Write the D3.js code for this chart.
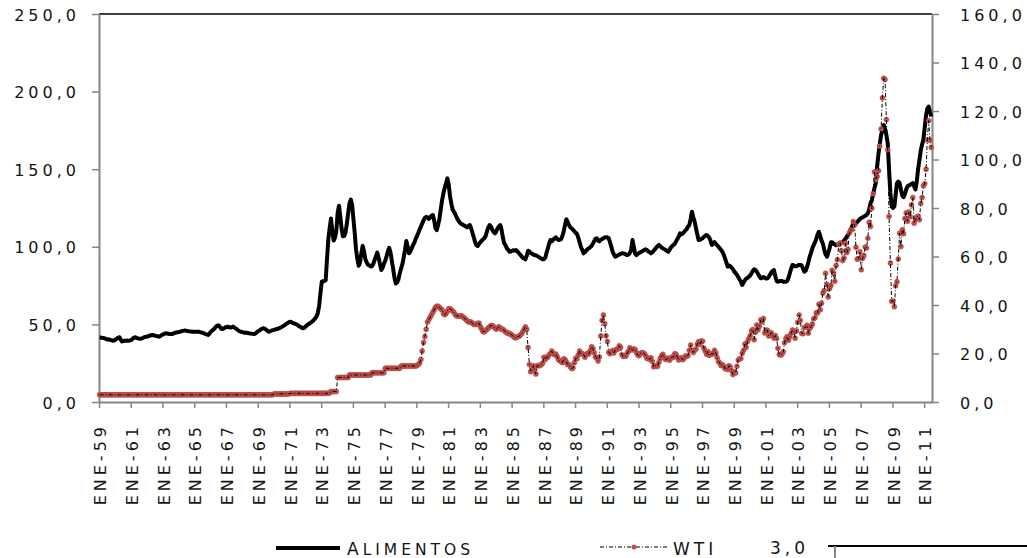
<!DOCTYPE html>
<html>
<head>
<meta charset="utf-8">
<script src="https://cdn.jsdelivr.net/npm/d3@7"></script>
<style>
  body { margin: 0; background: #fff; }
  svg text { font-family: "DejaVu Sans", sans-serif; fill: #141414; letter-spacing: 4px; }
</style>
</head>
<body>
<svg id="chart" width="1027" height="558"></svg>
<script>
// monthly series, Jan 1959 .. Jun 2011 (one row per year)
const startYear = 1959;

const alimentos = [
  41.7, 41.5, 41.3, 41.2, 41.0, 40.6, 40.2, 40.5, 40.0, 39.8, 39.5, 39.6,
  40.2, 40.8, 41.5, 41.7, 40.2, 39.0, 39.3, 39.5, 39.4, 39.6, 39.5, 39.6,
  40.0, 40.8, 41.5, 41.7, 41.2, 41.0, 40.8, 40.8, 41.0, 41.4, 41.8, 42.0,
  42.1, 42.4, 42.8, 43.0, 43.2, 43.0, 42.8, 42.5, 42.3, 42.1, 42.5, 43.2,
  43.6, 44.0, 44.3, 44.2, 44.0, 43.8, 43.8, 43.8, 44.2, 44.6, 44.8, 45.0,
  45.1, 45.3, 45.6, 45.8, 46.0, 46.0, 45.8, 45.6, 45.5, 45.4, 45.3, 45.3,
  45.3, 45.3, 45.2, 45.3, 45.0, 44.8, 44.5, 44.2, 43.8, 43.5, 43.2, 44.0,
  45.2, 46.0, 46.6, 47.5, 48.5, 49.2, 49.4, 48.4, 47.2, 47.0, 47.5, 48.0,
  48.3, 48.5, 48.2, 48.0, 48.3, 48.6, 48.0, 47.4, 46.8, 46.0, 45.5, 45.3,
  45.0, 44.8, 44.6, 44.7, 44.5, 44.3, 44.2, 44.0, 43.9, 43.8, 44.2, 45.0,
  45.6, 46.2, 46.8, 47.3, 47.5, 47.2, 46.5, 45.8, 45.3, 45.5, 46.0, 46.3,
  46.5, 46.8, 47.0, 47.2, 47.6, 48.0, 48.6, 49.0, 49.6, 50.2, 50.8, 51.3,
  51.7, 51.5, 51.0, 50.6, 50.3, 50.0, 49.4, 48.8, 48.3, 47.8, 47.5, 48.0,
  48.8, 49.6, 50.2, 50.7, 51.3, 52.0, 52.8, 53.8, 55.2, 57.1, 62.0, 70.0,
  77.5, 77.8, 78.0, 78.5, 92.0, 105.0, 112.0, 118.3, 110.0, 104.0, 106.0, 110.0,
  121.7, 126.5, 120.0, 112.0, 106.8, 107.0, 109.0, 115.0, 122.0, 128.0, 130.4, 127.0,
  117.5, 108.0, 98.1, 92.0, 87.8, 90.0, 96.0, 100.6, 97.0, 92.0, 89.9, 88.5,
  88.0, 87.3, 87.5, 89.0, 91.5, 94.0, 96.3, 93.0, 89.0, 85.1, 86.5, 89.0,
  91.0, 94.0, 97.0, 99.3, 96.5, 91.0, 86.0, 80.0, 76.4, 77.0, 79.0, 83.0,
  86.0, 89.0, 93.0, 98.0, 103.7, 100.0, 95.8, 97.0, 99.0, 101.0, 102.6, 105.0,
  107.0, 109.0, 111.0, 113.0, 115.0, 117.0, 118.5, 119.3, 119.0, 118.0, 119.0, 120.0,
  120.5, 117.0, 112.0, 110.8, 114.0, 118.0, 124.0, 130.0, 134.5, 138.0, 141.0, 144.1,
  140.0, 132.3, 128.0, 124.0, 122.6, 121.0, 119.0, 117.5, 116.0, 115.1, 114.5, 114.0,
  113.5, 113.0, 112.5, 113.5, 114.0, 112.0, 109.0, 106.0, 103.0, 101.0, 100.5, 102.0,
  103.0, 104.0, 104.8, 105.5, 107.0, 110.0, 112.5, 114.0, 113.0, 111.0, 109.5, 108.7,
  110.0, 112.0, 113.0, 114.0, 111.0, 106.0, 102.2, 101.0, 99.0, 98.0, 96.8, 97.0,
  97.5, 97.8, 97.5, 97.9, 97.0, 96.0, 95.0, 94.0, 93.0, 92.5, 91.9, 94.0,
  97.5, 97.0, 96.0, 95.5, 95.0, 94.7, 94.5, 94.0, 93.5, 93.0, 92.5, 92.0,
  91.9, 93.0, 96.0, 99.0, 102.0, 104.4, 103.5, 104.5, 105.5, 106.1, 105.0, 104.4,
  104.4, 105.0, 107.0, 110.0, 114.0, 117.7, 116.0, 114.0, 112.5, 111.9, 111.0, 110.0,
  109.0, 108.2, 106.0, 103.0, 100.0, 98.0, 95.8, 96.5, 97.5, 98.5, 99.0, 99.7,
  100.5, 102.0, 103.5, 105.0, 105.5, 104.0, 103.5, 104.4, 105.0, 105.5, 106.0, 106.1,
  106.1, 105.5, 103.0, 100.1, 97.0, 95.0, 93.6, 94.0, 94.5, 95.0, 95.5, 95.8,
  95.8, 95.5, 95.0, 94.7, 95.0, 96.0, 98.0, 104.4, 100.0, 95.5, 94.7, 95.5,
  96.0, 96.5, 97.0, 97.5, 98.0, 98.4, 97.8, 97.0, 96.5, 95.8, 96.5, 97.5,
  98.5, 99.5, 100.5, 101.2, 100.5, 99.5, 99.0, 98.5, 98.0, 97.5, 96.8, 98.0,
  99.5, 100.5, 101.2, 102.0, 103.5, 105.0, 106.5, 108.7, 108.0, 108.5, 109.5, 110.5,
  111.5, 113.0, 114.0, 118.0, 122.6, 119.0, 116.2, 112.0, 108.0, 104.4, 104.5, 105.0,
  105.5, 106.5, 107.0, 107.6, 107.0, 106.0, 104.0, 101.2, 102.0, 103.0, 102.0, 101.0,
  100.0, 99.0, 98.0, 96.8, 95.0, 92.5, 90.0, 87.2, 88.0, 87.5, 86.5, 85.5,
  84.0, 83.0, 82.0, 80.5, 79.0, 77.5, 75.4, 77.0, 78.5, 79.5, 80.0, 80.7,
  81.5, 83.0, 84.5, 85.5, 85.0, 84.0, 82.5, 81.0, 79.7, 80.0, 80.5, 80.0,
  79.5, 79.7, 80.5, 82.0, 83.5, 84.5, 85.0, 81.0, 78.0, 77.5, 77.8, 78.0,
  78.0, 77.5, 77.5, 77.5, 78.0, 80.0, 83.0, 86.0, 88.3, 88.0, 87.5, 87.5,
  88.0, 88.3, 88.3, 88.0, 86.0, 84.0, 84.5, 87.0, 90.0, 93.6, 96.0, 99.0,
  101.0, 103.0, 105.0, 108.0, 109.7, 107.0, 104.0, 102.0, 98.0, 95.0, 93.6, 96.0,
  99.0, 103.0, 103.0, 102.0, 101.5, 101.0, 101.5, 102.0, 102.5, 102.5, 103.0, 104.0,
  105.0, 106.5, 107.6, 109.0, 111.0, 113.0, 115.0, 114.5, 115.0, 116.0, 117.0, 118.0,
  118.5, 119.0, 119.4, 120.0, 120.5, 121.6, 124.0, 128.0, 130.0, 134.0, 138.0, 141.0,
  152.0, 160.0, 166.0, 172.0, 175.0, 178.5, 176.0, 172.0, 166.7, 150.0, 135.0, 126.0,
  125.0, 126.0, 133.0, 141.0, 142.0, 141.0, 137.0, 133.0, 132.0, 134.0, 137.0, 139.0,
  139.5, 140.0, 140.5, 141.0, 139.0, 137.0, 142.0, 150.0, 156.0, 162.0, 166.0, 169.0,
  177.0, 185.0, 189.0, 190.3, 187.0, 184.0
];

const wti = [
  2.97, 2.97, 2.97, 2.97, 2.97, 2.97, 2.97, 2.97, 2.97, 2.97, 2.97, 2.97,
  2.97, 2.97, 2.97, 2.97, 2.97, 2.97, 2.97, 2.97, 2.97, 2.97, 2.97, 2.97,
  2.97, 2.97, 2.97, 2.97, 2.97, 2.97, 2.97, 2.97, 2.97, 2.97, 2.97, 2.97,
  2.97, 2.97, 2.97, 2.97, 2.97, 2.97, 2.97, 2.97, 2.97, 2.97, 2.97, 2.97,
  2.97, 2.97, 2.97, 2.97, 2.97, 2.97, 2.97, 2.97, 2.97, 2.97, 2.97, 2.97,
  2.97, 2.97, 2.97, 2.97, 2.97, 2.97, 2.97, 2.97, 2.97, 2.97, 2.97, 2.97,
  2.97, 2.97, 2.97, 2.97, 2.97, 2.97, 2.97, 2.97, 2.97, 2.97, 2.97, 2.97,
  2.97, 2.97, 2.97, 2.97, 2.97, 2.97, 2.97, 2.97, 2.97, 2.97, 2.97, 2.97,
  2.97, 2.97, 2.97, 2.97, 2.97, 2.97, 2.97, 2.97, 2.97, 2.97, 2.97, 2.97,
  2.97, 2.97, 2.97, 2.97, 2.97, 2.97, 2.97, 2.97, 2.97, 2.97, 2.97, 2.97,
  2.97, 2.97, 2.97, 2.97, 2.97, 2.97, 2.97, 2.97, 2.97, 2.97, 2.97, 2.97,
  3.35, 3.35, 3.35, 3.35, 3.35, 3.35, 3.35, 3.35, 3.35, 3.35, 3.35, 3.35,
  3.56, 3.56, 3.56, 3.56, 3.56, 3.56, 3.56, 3.56, 3.56, 3.56, 3.56, 3.56,
  3.56, 3.56, 3.56, 3.56, 3.56, 3.56, 3.56, 3.56, 3.56, 3.56, 3.56, 3.56,
  3.56, 3.56, 3.56, 3.56, 3.56, 3.66, 3.66, 4.31, 4.31, 4.31, 4.31, 4.31,
  10.11, 10.11, 10.11, 10.11, 10.11, 10.11, 10.11, 10.11, 10.11, 11.16, 11.16, 11.16,
  11.16, 11.16, 11.16, 11.16, 11.16, 11.16, 11.16, 11.16, 11.16, 11.16, 11.16, 11.16,
  11.16, 11.16, 12.03, 12.03, 12.03, 12.03, 12.03, 12.03, 12.03, 12.03, 12.03, 12.03,
  13.9, 13.9, 13.9, 13.9, 13.9, 13.9, 13.9, 13.9, 13.9, 13.9, 13.9, 13.9,
  14.85, 14.85, 14.85, 14.85, 14.85, 14.85, 14.85, 14.85, 14.85, 14.85, 14.85, 14.85,
  15.0, 15.5, 16.0, 17.5, 21.0, 24.5, 27.0, 30.0, 33.0, 34.0, 35.0, 36.0,
  37.0, 38.0, 39.0, 39.5, 39.5, 39.0, 38.5, 38.0, 36.5, 36.0, 36.5, 37.5,
  38.5, 38.5, 38.0, 37.5, 37.0, 36.0, 35.5, 35.5, 35.5, 35.5, 35.5, 35.0,
  34.5, 34.0, 33.5, 33.0, 33.0, 33.0, 32.5, 32.0, 32.0, 32.0, 32.5, 32.5,
  31.0, 30.0, 29.0, 29.0, 29.5, 30.0, 30.5, 31.0, 31.5, 31.5, 31.0, 30.5,
  30.0, 30.5, 31.0, 30.5, 30.0, 30.0, 29.5, 29.0, 28.5, 28.5, 28.0, 28.0,
  27.5, 27.0, 26.5, 26.5, 27.0, 27.0, 27.5, 28.0, 29.0, 30.0, 31.0, 30.0,
  22.5, 15.5, 12.5, 13.0, 15.0, 13.5, 11.5, 15.0, 15.0, 15.0, 15.5, 16.0,
  18.5, 17.5, 18.5, 18.5, 19.5, 20.0, 21.0, 20.0, 19.5, 19.8, 18.8, 17.5,
  17.0, 16.8, 16.2, 17.8, 17.5, 16.5, 15.5, 15.5, 14.5, 13.8, 14.0, 16.2,
  18.0, 17.8, 19.4, 21.0, 20.0, 20.0, 19.6, 18.5, 19.6, 20.1, 19.8, 21.1,
  22.8, 22.1, 20.4, 18.6, 18.2, 16.9, 18.6, 27.2, 33.7, 35.9, 32.3, 27.3,
  25.0, 20.5, 19.9, 20.8, 21.2, 20.2, 21.4, 21.7, 21.9, 23.2, 22.5, 19.5,
  18.8, 19.0, 18.9, 20.2, 20.9, 22.4, 21.8, 21.4, 21.9, 21.7, 20.3, 19.4,
  19.1, 20.1, 20.3, 20.3, 19.9, 19.1, 17.9, 18.0, 17.5, 18.2, 16.7, 14.5,
  15.0, 14.8, 14.7, 16.4, 17.9, 19.1, 19.7, 18.4, 17.5, 17.7, 18.1, 17.2,
  18.0, 18.6, 18.5, 19.9, 19.7, 18.4, 17.3, 18.0, 18.2, 17.4, 18.0, 19.0,
  18.9, 19.1, 21.3, 23.5, 21.2, 20.4, 21.3, 21.9, 23.9, 24.9, 23.7, 25.2,
  25.1, 22.2, 21.0, 19.7, 20.8, 19.2, 19.6, 19.9, 19.8, 21.3, 20.2, 18.3,
  16.7, 16.1, 15.0, 15.4, 14.9, 13.7, 14.1, 13.4, 15.0, 14.4, 12.9, 11.3,
  12.5, 12.0, 14.7, 17.3, 17.8, 17.9, 20.1, 21.3, 23.9, 22.6, 25.0, 26.1,
  27.3, 29.4, 29.9, 25.7, 28.8, 31.8, 29.8, 31.2, 33.9, 33.1, 34.4, 28.5,
  29.6, 29.6, 27.2, 27.4, 28.6, 27.6, 26.4, 27.4, 26.2, 22.2, 19.6, 19.3,
  19.7, 20.7, 24.4, 26.2, 27.0, 25.5, 26.9, 28.4, 29.7, 28.9, 26.3, 29.4,
  32.9, 35.9, 33.6, 28.3, 28.1, 30.7, 30.8, 31.6, 28.3, 30.3, 31.1, 32.1,
  34.3, 34.7, 36.8, 36.7, 40.3, 38.0, 40.7, 44.9, 46.0, 53.1, 48.5, 43.3,
  46.8, 48.0, 54.3, 53.0, 49.8, 56.3, 58.7, 65.0, 65.6, 62.4, 58.3, 59.4,
  65.5, 61.6, 62.9, 69.7, 70.9, 71.0, 74.4, 73.0, 63.8, 58.9, 59.1, 62.0,
  54.5, 59.3, 60.4, 63.9, 63.5, 67.5, 74.1, 72.4, 79.9, 85.8, 94.8, 91.7,
  93.0, 95.4, 105.5, 112.6, 125.4, 133.5, 133.0, 116.5, 104.0, 76.5, 57.3, 41.5,
  41.7, 39.3, 47.9, 49.6, 59.0, 69.6, 64.1, 71.0, 69.4, 75.7, 78.0, 74.5,
  78.3, 76.4, 81.2, 84.3, 73.7, 75.3, 76.3, 76.6, 75.2, 81.9, 84.3, 89.2,
  90.0, 96.0, 108.0, 116.0, 108.0, 105.0
];

const tickYears = [1959, 1961, 1963, 1965, 1967, 1969, 1971, 1973, 1975, 1977, 1979, 1981, 1983, 1985,
  1987, 1989, 1991, 1993, 1995, 1997, 1999, 2001, 2003, 2005, 2007, 2009, 2011];
const tickLabels = ["ENE-59", "ENE-61", "ENE-63", "ENE-65", "ENE-67", "ENE-69", "ENE-71", "ENE-73",
  "ENE-75", "ENE-77", "ENE-79", "ENE-81", "ENE-83", "ENE-85", "ENE-87", "ENE-89", "ENE-91", "ENE-93",
  "ENE-95", "ENE-97", "ENE-99", "ENE-01", "ENE-03", "ENE-05", "ENE-07", "ENE-09", "ENE-11"];
const leftTicks = [0, 50, 100, 150, 200, 250];
const rightTicks = [0, 20, 40, 60, 80, 100, 120, 140, 160];

const svg = d3.select("#chart");
const plotL = 99, plotR = 932, plotT = 14, plotB = 402;
const axisGrey = "#868686";

const fmt = d3.formatLocale({decimal: ",", thousands: ".", grouping: [3], currency: ["", ""]}).format(".1f");

const monthDate = i => new Date(startYear, i, 15);

const x = d3.scaleTime()
    .domain([new Date(startYear, 0, 1), new Date(2011, 6, 1)])
    .range([plotL, plotR]);
const yL = d3.scaleLinear().domain([0, 250]).range([plotB, plotT]);
const yR = d3.scaleLinear().domain([0, 160]).range([plotB, plotT]);

// top border
svg.append("line")
    .attr("x1", plotL).attr("x2", plotR).attr("y1", plotT).attr("y2", plotT)
    .attr("stroke", "#000").attr("stroke-width", 1.6);

// axes
const gx = svg.append("g")
    .attr("transform", `translate(0,${plotB})`)
    .call(d3.axisBottom(x)
        .tickValues(tickYears.map(y => new Date(y, 0, 1)))
        .tickFormat((d, i) => tickLabels[i])
        .tickSize(6).tickSizeOuter(0));
gx.selectAll("text")
    .attr("transform", "rotate(-90)")
    .attr("text-anchor", "end")
    .attr("x", -21).attr("y", 1).attr("dy", "0.36em")
    .attr("font-size", 16);

const gl = svg.append("g")
    .attr("transform", `translate(${plotL},0)`)
    .call(d3.axisLeft(yL).tickValues(leftTicks).tickFormat(fmt).tickSize(7).tickSizeOuter(0));
gl.selectAll("text").attr("x", -19).attr("dy", "0.38em").attr("font-size", 16);

const gr = svg.append("g")
    .attr("transform", `translate(${plotR},0)`)
    .call(d3.axisRight(yR).tickValues(rightTicks).tickFormat(fmt).tickSize(7).tickSizeOuter(0));
gr.selectAll("text").attr("x", 28).attr("dy", "0.38em").attr("font-size", 16);

svg.selectAll(".domain").attr("stroke", axisGrey).attr("stroke-width", 2);
svg.selectAll(".tick line").attr("stroke", axisGrey).attr("stroke-width", 1.5);
svg.selectAll(".tick text").attr("font-family", "DejaVu Sans");

// Alimentos
const lineL = d3.line().x((d, i) => x(monthDate(i))).y(d => yL(d));
svg.append("path")
    .datum(alimentos)
    .attr("fill", "none")
    .attr("stroke", "#000")
    .attr("stroke-width", 4)
    .attr("stroke-linejoin", "round")
    .attr("d", lineL);

// WTI markers + dash-dot line
svg.append("g").selectAll("circle")
    .data(wti)
    .enter()
    .append("circle")
    .attr("cx", (d, i) => x(monthDate(i)))
    .attr("cy", d => yR(d))
    .attr("r", 2.5)
    .attr("fill", "#c0504d")
    .attr("stroke", "#b3443f")
    .attr("stroke-width", 0.5);

const lineR = d3.line().x((d, i) => x(monthDate(i))).y(d => yR(d));
svg.append("path")
    .datum(wti)
    .attr("fill", "none")
    .attr("stroke", "#000")
    .attr("stroke-width", 1)
    .attr("stroke-dasharray", "4,2,1,2")
    .attr("d", lineR);

// legend
const leg = svg.append("g");
leg.append("line").attr("x1", 276).attr("x2", 340).attr("y1", 548).attr("y2", 548)
    .attr("stroke", "#000").attr("stroke-width", 4);
const tA = leg.append("text").attr("x", 347).attr("y", 555);
tA.append("tspan").attr("font-size", 17).text("A");
tA.append("tspan").attr("font-size", 15.5).text("LIMENTOS");

leg.append("line").attr("x1", 600).attr("x2", 668).attr("y1", 547).attr("y2", 547)
    .attr("stroke", "#000").attr("stroke-width", 1).attr("stroke-dasharray", "4,2,1,2");
leg.append("circle").attr("cx", 634).attr("cy", 547).attr("r", 2.5).attr("fill", "#c0504d");
leg.append("text").attr("x", 673).attr("y", 555).attr("font-size", 17).text("WTI");

// edge of the next chart below
leg.append("text").attr("x", 770).attr("y", 554).attr("font-size", 17).text("3,0");
leg.append("line").attr("x1", 828).attr("x2", 1027).attr("y1", 546).attr("y2", 546)
    .attr("stroke", "#000").attr("stroke-width", 1.8);
leg.append("line").attr("x1", 835).attr("x2", 835).attr("y1", 546).attr("y2", 558)
    .attr("stroke", axisGrey).attr("stroke-width", 2);
</script>
</body>
</html>
